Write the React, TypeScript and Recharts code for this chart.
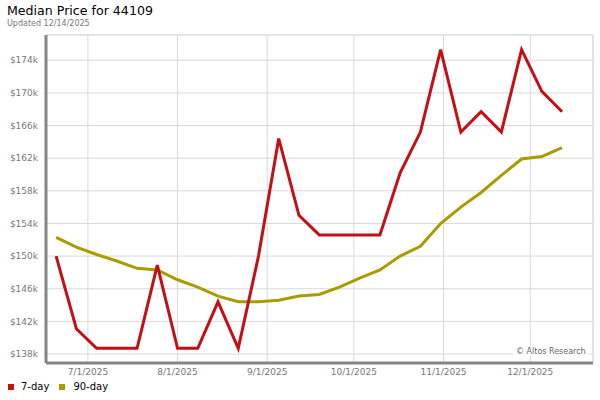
import React from 'react';
import { LineChart, Line, XAxis, YAxis, CartesianGrid, ReferenceLine } from 'recharts';

// weekly observations
const weeks = [
  '6/20/2025', '6/27/2025', '7/4/2025', '7/11/2025', '7/18/2025', '7/25/2025',
  '8/1/2025', '8/8/2025', '8/15/2025', '8/22/2025', '8/29/2025', '9/5/2025',
  '9/12/2025', '9/19/2025', '9/26/2025', '10/3/2025', '10/10/2025', '10/17/2025',
  '10/24/2025', '10/31/2025', '11/7/2025', '11/14/2025', '11/21/2025', '11/28/2025',
  '12/5/2025', '12/12/2025',
];

const sevenDay = [
  150000, 141100, 138700, 138700, 138700, 148900, 138700, 138700, 144400, 138700,
  150000, 164400, 155000, 152600, 152600, 152600, 152600, 160200, 165200, 175300,
  165200, 167700, 165200, 175300, 170200, 167700,
];

const ninetyDay = [
  152300, 151100, 150200, 149400, 148500, 148300, 147100, 146200, 145100, 144400,
  144400, 144600, 145100, 145300, 146200, 147300, 148300, 150000, 151200, 154000,
  156000, 157800, 159900, 161900, 162200, 163300,
];

const monthTicks = ['7/1/2025', '8/1/2025', '9/1/2025', '10/1/2025', '11/1/2025', '12/1/2025'];
const priceTicks = [138000, 142000, 146000, 150000, 154000, 158000, 162000, 166000, 170000, 174000];

const toDay = (s: string) => {
  const [m, d, y] = s.split('/').map(Number);
  return Math.round((Date.UTC(y, m - 1, d) - Date.UTC(2025, 5, 20)) / 86400000);
};

const data = weeks.map((w, i) => ({ day: toDay(w), d7: sevenDay[i], d90: ninetyDay[i] }));
const xTicks = monthTicks.map(toDay);
const tickLabel = (v: number) => monthTicks[xTicks.indexOf(v)] ?? '';

const X_MIN = -3.5;
const X_MAX = 185.7;
const Y_MIN = 136900;
const Y_MAX = 177100;

const RED = '#c40f14';
const OLIVE = '#a89c00';
const FONT = '"DejaVu Sans", Verdana, sans-serif';

export default function App() {
  return (
    <div style={{ position: 'absolute', left: 0, top: 0, width: 600, height: 400, fontFamily: FONT, background: '#fff' }}>
      <div style={{ position: 'absolute', left: 7, top: 3, fontSize: 12.6, color: '#000', whiteSpace: 'nowrap' }}>
        Median Price for 44109
      </div>
      <div style={{ position: 'absolute', left: 7, top: 19, fontSize: 8, color: '#777', whiteSpace: 'nowrap' }}>
        Updated 12/14/2025
      </div>
      <LineChart width={600} height={400} data={data} margin={{ top: 35, right: 7, left: 0, bottom: 17 }}>
        <CartesianGrid stroke="#d9d9d9" strokeWidth={1} />
        <XAxis
          dataKey="day"
          type="number"
          domain={[X_MIN, X_MAX]}
          ticks={xTicks}
          tickFormatter={tickLabel}
          height={20}
          tickLine={false}
          tickMargin={0}
          axisLine={{ stroke: '#858585', strokeWidth: 3 }}
          tick={{ fontSize: 9, fill: '#777', fontFamily: FONT }}
          allowDataOverflow
        />
        <YAxis
          type="number"
          domain={[Y_MIN, Y_MAX]}
          ticks={priceTicks}
          tickFormatter={(v: number) => `$${v / 1000}k`}
          width={46}
          tickLine={false}
          tickMargin={2}
          axisLine={{ stroke: '#858585', strokeWidth: 3 }}
          tick={{ fontSize: 9, fill: '#777', fontFamily: FONT }}
          allowDataOverflow
        />
        <ReferenceLine y={Y_MAX} stroke="#d9d9d9" />
        <ReferenceLine x={X_MAX} stroke="#d9d9d9" />
        <Line dataKey="d90" stroke={OLIVE} strokeWidth={3} dot={false} isAnimationActive={false} />
        <Line dataKey="d7" stroke={RED} strokeWidth={3} dot={false} isAnimationActive={false} />
      </LineChart>
      <div style={{ position: 'absolute', left: 514, top: 347, fontSize: 8, color: '#666', background: '#fff', padding: '0 2px', whiteSpace: 'nowrap' }}>
        © Altos Research
      </div>
      <div style={{ position: 'absolute', left: 8, top: 381, fontSize: 10, color: '#000', display: 'flex', alignItems: 'center', whiteSpace: 'nowrap' }}>
        <span style={{ width: 6, height: 6, background: RED, display: 'inline-block', marginRight: 7 }} />
        <span style={{ marginRight: 10 }}>7-day</span>
        <span style={{ width: 6, height: 6, background: OLIVE, display: 'inline-block', marginRight: 8 }} />
        <span>90-day</span>
      </div>
    </div>
  );
}
